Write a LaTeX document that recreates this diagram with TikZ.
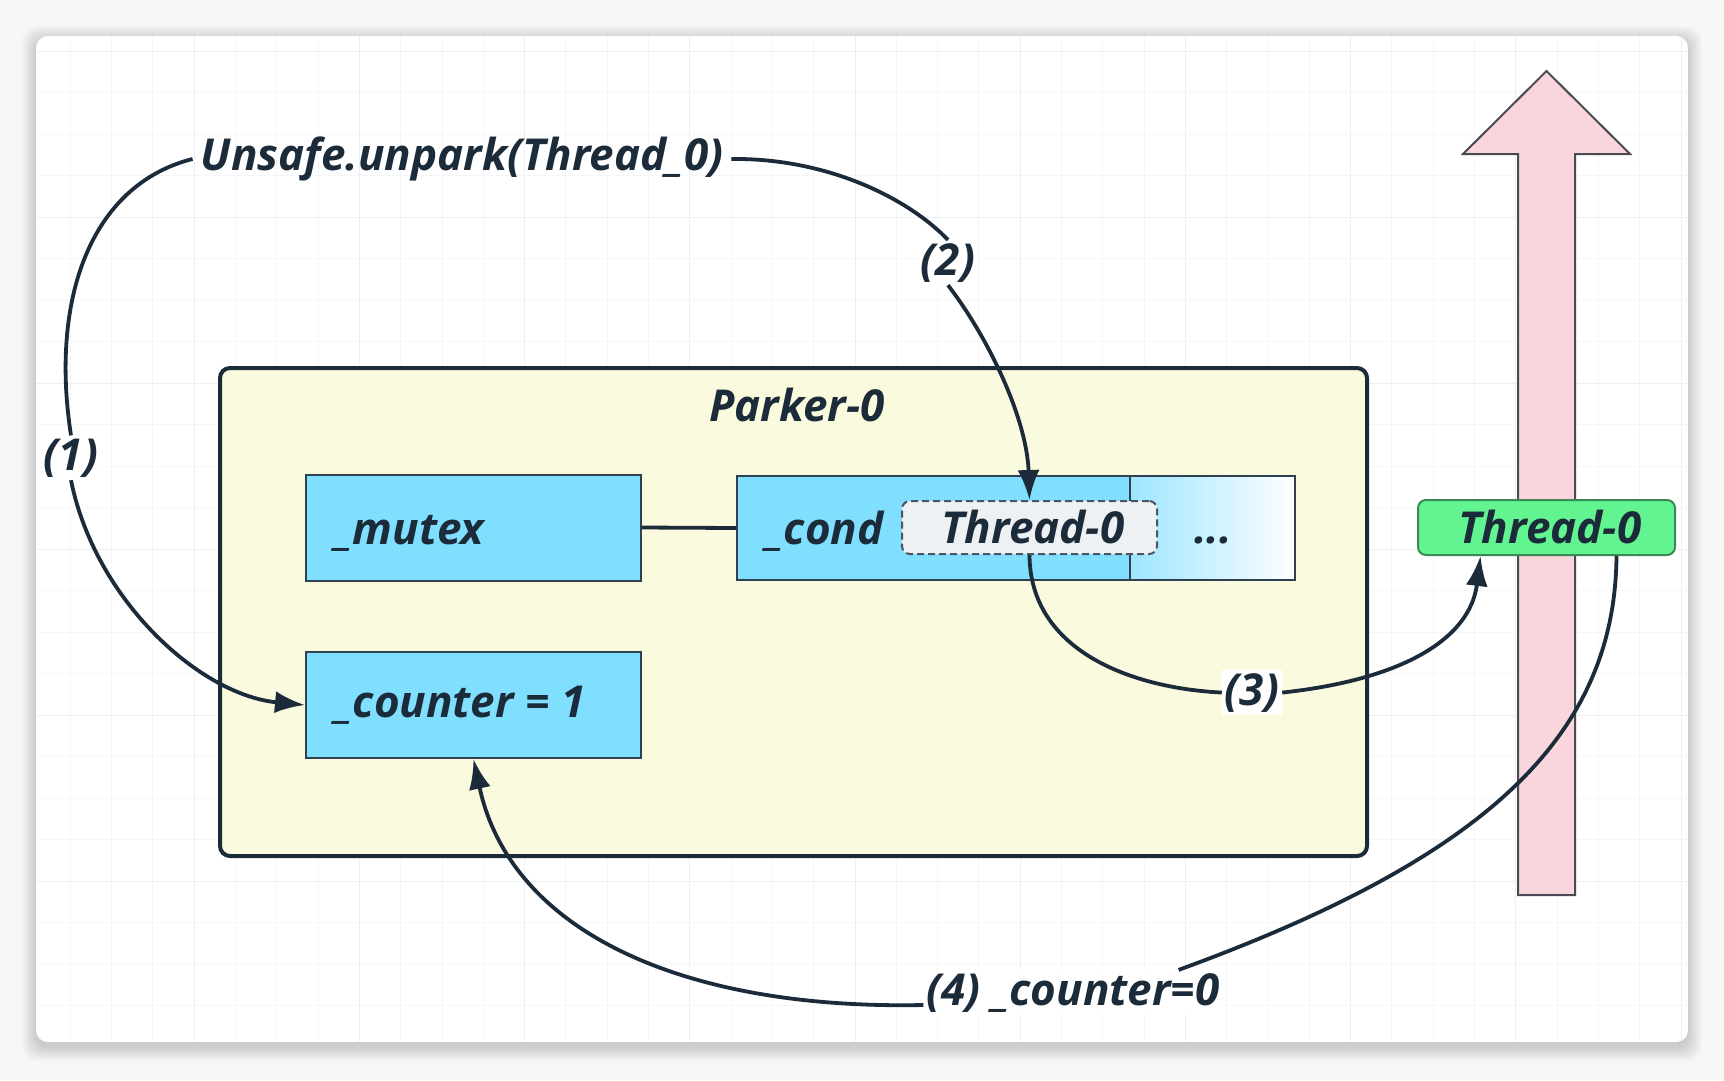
\documentclass[tikz,border=0pt]{standalone}
\usepackage{fontspec}
\setmainfont{Open Sans}
\usetikzlibrary{arrows.meta,calc}
\definecolor{ink}{HTML}{1C2B39}
\definecolor{cblue}{HTML}{80DEFF}
\definecolor{cgrad}{HTML}{9DE5FF}
\definecolor{boxline}{HTML}{2F4050}
\definecolor{cyellow}{HTML}{FAFBDE}
\definecolor{cgreen}{HTML}{62F490}
\definecolor{cgreenline}{HTML}{3A8A55}
\definecolor{cpink}{HTML}{F8D6DC}
\definecolor{pinkline}{HTML}{4A4A55}
\definecolor{dfill}{HTML}{EDF1F3}
\definecolor{dline}{HTML}{4B5560}
\definecolor{gridminor}{HTML}{F4F6F8}
\definecolor{gridmajor}{HTML}{ECF0F2}
\definecolor{outerbg}{HTML}{F7F7F7}
\begin{document}
\begin{tikzpicture}[x=1pt,y=-1pt,
  txt/.style={font=\fontsize{44}{52}\selectfont\bfseries\itshape, text=ink, inner sep=2pt},
  conn/.style={draw=ink, line width=3.8pt},
  arr/.style={conn, -{Latex[length=30pt,width=22pt]}},
  blk/.style={draw=boxline, line width=2pt, fill=cblue, minimum width=335pt, minimum height=106pt},
  lbl/.style={txt, fill=white, inner sep=3pt}
]
\useasboundingbox (0,0) rectangle (1724,1080);
\fill[outerbg] (0,0) rectangle (1724,1080);
% shadow
\foreach \i in {1,...,14} {
  \fill[black, opacity=0.010, rounded corners=14pt] ({36-\i},{36-\i+4}) rectangle ({1688+\i},{1042+\i+5});
}
% card with grid
\begin{scope}
\clip[rounded corners=12pt] (36,36) rectangle (1688,1042);
\fill[white] (36,36) rectangle (1688,1042);
\foreach \k in {0,...,40} \draw[gridminor, line width=1pt] ({29+41.3*\k},36) -- ({29+41.3*\k},1042);
\foreach \k in {0,...,25} \draw[gridminor, line width=1pt] (36,{9.5+41.5*\k}) -- (1688,{9.5+41.5*\k});
\foreach \k in {0,...,10} \draw[gridmajor, line width=1pt] ({29+165.2*\k},36) -- ({29+165.2*\k},1042);
\foreach \k in {0,...,6} \draw[gridmajor, line width=1pt] (36,{51+166*\k}) -- (1688,{51+166*\k});
\end{scope}

% Parker box
\node[draw=ink, line width=4pt, fill=cyellow, rounded corners=10pt, minimum width=1147pt, minimum height=488pt] (parker) at (793.5,612) {};
\node[txt, anchor=base] (parkerlbl) at (797,421) {Parker-0};

% mutex & counter
\node[blk] (mutex) at (473.5,527.5) {};
\node[txt, anchor=base west] (mutext) at (333,544) {\_mutex};
\node[blk] (counter) at (473.5,705) {};
\node[txt, anchor=base west] (countertext) at (333,717) {\_counter = 1};

% cond
\fill[cblue] (737,476) rectangle (1130,580);
\shade[left color=cgrad, right color=white] (1130,476) rectangle (1295,580);
\node[draw=boxline, line width=2pt, minimum width=558pt, minimum height=104pt] (cond) at (1016,528) {};
\draw[boxline, line width=1.5pt] (1130,476) -- (1130,580);
\node[txt, anchor=base west] (condtext) at (764,544) {\_cond};
\node[txt, draw=dline, dashed, dash pattern=on 7pt off 4pt, line width=2pt, fill=dfill, rounded corners=8pt, minimum width=255pt, minimum height=53pt] (dth) at (1029.5,527.5) {};
\node[txt, anchor=base] (dthtext) at (1033,543) {Thread-0};
\node[txt, anchor=base] (dots) at (1213,543) {...};

% pink arrow
\draw[pinkline, line width=2pt, fill=cpink, line join=miter] (1518,895) -- (1518,154) -- (1463,154) -- (1546.5,71) -- (1630,154) -- (1575,154) -- (1575,895) -- cycle;

% green Thread-0
\node[draw=cgreenline, line width=2pt, fill=cgreen, rounded corners=8pt, minimum width=257pt, minimum height=55pt] (green) at (1546.5,527.5) {};
\node[txt, anchor=base] (greentext) at (1550,543) {Thread-0};

% texts / labels
\node[txt, anchor=base, inner xsep=8pt] (unsafe) at (462,170.5) {Unsafe.unpark(Thread\_0)};
\node[lbl, anchor=base] (l1) at (71,470) {(1)};
\node[lbl, anchor=base] (l2) at (948,275) {(2)};
\node[lbl, anchor=base] (l3) at (1252,705) {(3)};
\node[lbl, anchor=base] (l4) at (1073,1005) {(4) \_counter=0};

% connectors
\draw[conn] (mutex.east) -- (cond.west);
\draw[conn] (unsafe.west) .. controls (90,185) and (50,300) .. (l1.north);
\draw[arr] (l1.south) .. controls (95,600) and (200,695) .. (counter.west);
\draw[conn] (unsafe.east) .. controls (830,158) and (910,200) .. (l2.north);
\draw[arr] (l2.south) .. controls (990,340) and (1027,420) .. (dth.north);
\draw[conn] (dth.south) .. controls (1030,650) and (1130,688) .. (l3.west);
\draw[arr] (l3.east) .. controls (1400,680) and (1470,640) .. ($(green.south)+(-66,0)$);
\draw[conn] ($(green.south)+(70,0)$) .. controls (1615,740) and (1480,860) .. ($(l4.north east)+(-44,0)$);
\draw[arr] (l4.base west) .. controls (680,1010) and (510,930) .. (counter.south);
\end{tikzpicture}
\end{document}
